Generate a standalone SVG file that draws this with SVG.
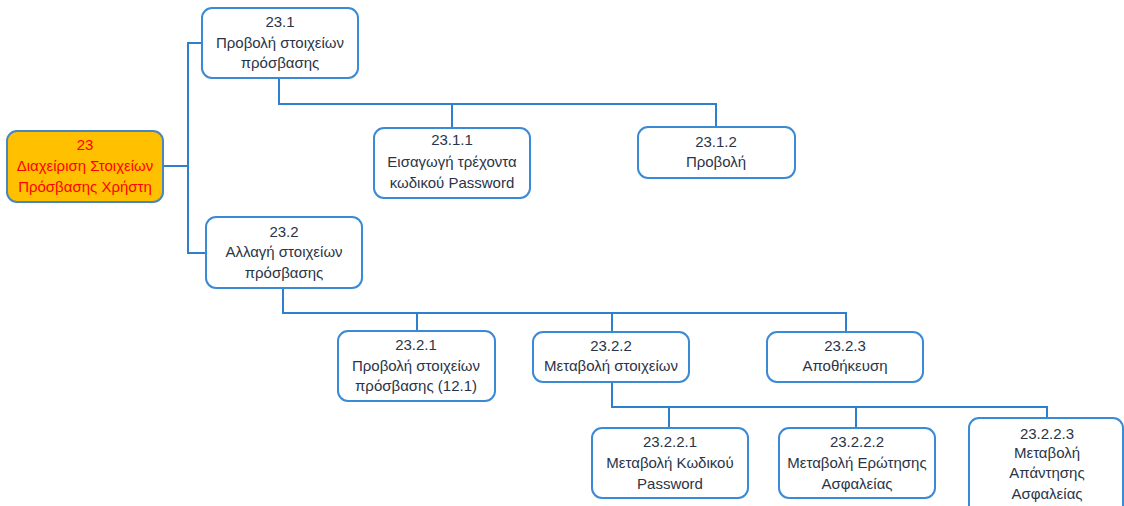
<svg xmlns="http://www.w3.org/2000/svg" width="1124" height="506" viewBox="0 0 1124 506">
<style>
.box{fill:#ffffff;stroke:#3b8ad6;stroke-width:2}
.root{fill:#ffc000;stroke:#4a86c0;stroke-width:2}
.t{font-family:"Liberation Sans",Arial,sans-serif;font-size:15px;fill:#2a3448;text-anchor:middle}
.r{fill:#ff0000}
.c{fill:none;stroke:#2f80cc;stroke-width:2}
</style>
<rect width="1124" height="506" fill="#ffffff"/>
<g id="connectors">
<polyline class="c" points="163,166 188,166"/>
<polyline class="c" points="202,43 188,43 188,253 206,253"/>
<polyline class="c" points="279,78 279,104 716,104 716,127"/>
<polyline class="c" points="452,104 452,128"/>
<polyline class="c" points="283,288 283,313 846,313 846,332"/>
<polyline class="c" points="417,313 417,331"/>
<polyline class="c" points="612,313 612,332"/>
<polyline class="c" points="612,382 612,407 1047,407 1047,418"/>
<polyline class="c" points="669,407 669,428"/>
<polyline class="c" points="856,407 856,428"/>
</g>
<g id="n23">
<rect class="root" x="7" y="131" width="156" height="71" rx="10"/>
<text class="t r" x="85" y="150">23</text>
<text class="t r" x="85" y="171">Διαχείριση Στοιχείων</text>
<text class="t r" x="85" y="192">Πρόσβασης Χρήστη</text>
</g>
<g id="n23_1">
<rect class="box" x="202" y="8" width="156" height="70" rx="10"/>
<text class="t" x="280" y="27">23.1</text>
<text class="t" x="280" y="48">Προβολή στοιχείων</text>
<text class="t" x="280" y="68">πρόσβασης</text>
</g>
<g id="n23_1_1">
<rect class="box" x="374" y="128" width="156" height="70" rx="10"/>
<text class="t" x="452" y="145">23.1.1</text>
<text class="t" x="452" y="167">Εισαγωγή τρέχοντα</text>
<text class="t" x="452" y="188">κωδικού Password</text>
</g>
<g id="n23_1_2">
<rect class="box" x="638" y="127" width="157" height="51" rx="10"/>
<text class="t" x="716" y="147">23.1.2</text>
<text class="t" x="716" y="167">Προβολή</text>
</g>
<g id="n23_2">
<rect class="box" x="206" y="217" width="156" height="71" rx="10"/>
<text class="t" x="284" y="237">23.2</text>
<text class="t" x="284" y="257">Αλλαγή στοιχείων</text>
<text class="t" x="284" y="278">πρόσβασης</text>
</g>
<g id="n23_2_1">
<rect class="box" x="338" y="331" width="157" height="70" rx="10"/>
<text class="t" x="416" y="350">23.2.1</text>
<text class="t" x="416" y="371">Προβολή στοιχείων</text>
<text class="t" x="416" y="391">πρόσβασης (12.1)</text>
</g>
<g id="n23_2_2">
<rect class="box" x="533" y="332" width="156" height="50" rx="10"/>
<text class="t" x="611" y="351">23.2.2</text>
<text class="t" x="611" y="371">Μεταβολή στοιχείων</text>
</g>
<g id="n23_2_3">
<rect class="box" x="767" y="332" width="156" height="50" rx="10"/>
<text class="t" x="845" y="351">23.2.3</text>
<text class="t" x="845" y="371">Αποθήκευση</text>
</g>
<g id="n23_2_2_1">
<rect class="box" x="592" y="428" width="156" height="70" rx="10"/>
<text class="t" x="670" y="447">23.2.2.1</text>
<text class="t" x="670" y="468">Μεταβολή Κωδικού</text>
<text class="t" x="670" y="489">Password</text>
</g>
<g id="n23_2_2_2">
<rect class="box" x="779" y="428" width="156" height="70" rx="10"/>
<text class="t" x="857" y="447">23.2.2.2</text>
<text class="t" x="857" y="468">Μεταβολή Ερώτησης</text>
<text class="t" x="857" y="489">Ασφαλείας</text>
</g>
<g id="n23_2_2_3">
<rect class="box" x="969" y="418" width="154" height="100" rx="10"/>
<text class="t" x="1047" y="439">23.2.2.3</text>
<text class="t" x="1047" y="458">Μεταβολή</text>
<text class="t" x="1047" y="478">Απάντησης</text>
<text class="t" x="1047" y="499">Ασφαλείας</text>
</g>
</svg>
